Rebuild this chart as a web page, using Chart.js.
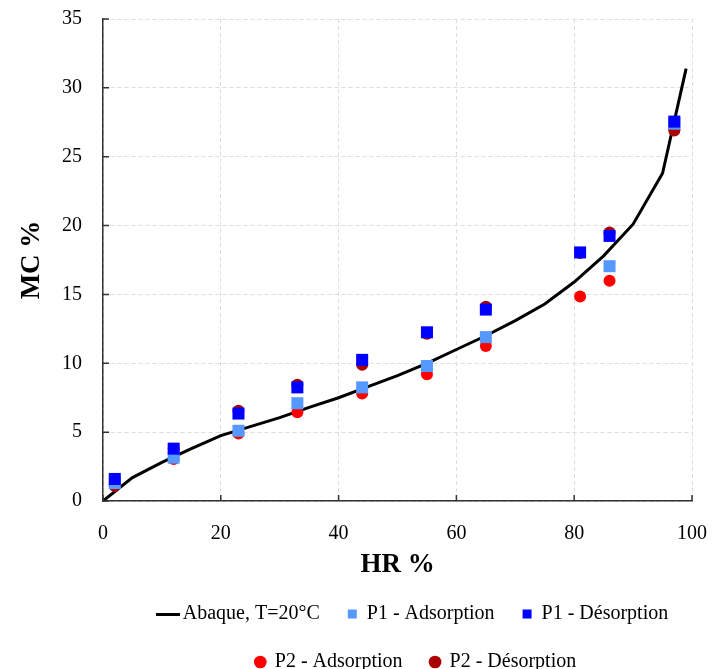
<!DOCTYPE html>
<html>
<head>
<meta charset="utf-8">
<script src="https://cdn.jsdelivr.net/npm/chart.js@4/dist/chart.umd.min.js"></script>
<style>
  body { margin: 0; background: #fff; }
</style>
</head>
<body>
<canvas id="myChart" width="712" height="669"></canvas>
<script>
// courbe abaque T=20°C
var abaqueHR = [0, 5, 10, 15, 20, 25, 30, 35, 40, 45, 50, 55, 60, 65, 70, 75, 80, 85, 90, 95, 99];
var abaqueMC = [0, 1.7, 2.8, 3.8, 4.75, 5.4, 6.05, 6.8, 7.5, 8.3, 9.1, 10.0, 11.0, 12.0, 13.1, 14.3, 15.9, 17.8, 20.1, 23.8, 31.4];

// mesures
var p1AdsHR = [2, 12, 23, 33, 44, 55, 65, 86, 97];
var p1AdsMC = [1.3, 3.15, 5.1, 7.1, 8.25, 9.8, 11.9, 17.05, 27.4];
var p1DesHR = [2, 12, 23, 33, 44, 55, 65, 81, 86, 97];
var p1DesMC = [1.6, 3.8, 6.35, 8.25, 10.25, 12.25, 13.9, 18.05, 19.25, 27.55];
var p2AdsHR = [2, 12, 23, 33, 44, 55, 65, 81, 86, 97];
var p2AdsMC = [1.1, 3.05, 4.9, 6.45, 7.8, 9.2, 11.25, 14.85, 16.0, 27.0];
var p2DesHR = [2, 12, 23, 33, 44, 55, 65, 81, 86, 97];
var p2DesMC = [1.1, 3.8, 6.55, 8.45, 9.9, 12.15, 14.1, 18.0, 19.5, 26.9];

var xTicks = [0, 20, 40, 60, 80, 100];
var yTicks = [0, 5, 10, 15, 20, 25, 30, 35];

function pts(xs, ys) {
  return xs.map(function (x, i) { return { x: x, y: ys[i] }; });
}

// trait noir plus long pour la légende de l'abaque
var lineSample = document.createElement("canvas");
lineSample.width = 24;
lineSample.height = 3;
var lsCtx = lineSample.getContext("2d");
lsCtx.fillStyle = "#000";
lsCtx.fillRect(0, 0, 24, 3);

// petits traits de graduation tournés vers l'intérieur
var innerTicks = {
  id: "innerTicks",
  afterLayout: function (chart) {
    // légende un peu décalée vers la droite comme sur l'original
    chart.legend.left += 62;
    chart.legend.right += 62;
  },
  afterDatasetsDraw: function (chart) {
    var c = chart.ctx, a = chart.chartArea;
    var sx = chart.scales.x, sy = chart.scales.y;
    c.save();
    c.strokeStyle = "#333";
    c.lineWidth = 1.5;
    c.beginPath();
    xTicks.forEach(function (v) {
      var px = sx.getPixelForValue(v);
      c.moveTo(px, a.bottom);
      c.lineTo(px, a.bottom - 6);
    });
    yTicks.forEach(function (v) {
      var py = sy.getPixelForValue(v);
      c.moveTo(a.left, py);
      c.lineTo(a.left + 6, py);
    });
    c.stroke();
    c.restore();
  }
};

var serif = "'Liberation Serif', 'DejaVu Serif', serif";
Chart.defaults.font.family = serif;
Chart.defaults.color = "#000";

var ctx = document.getElementById("myChart").getContext("2d");
var myChart = new Chart(ctx, {
  type: "scatter",
  data: {
    datasets: [
      {
        label: "Abaque, T=20°C",
        data: pts(abaqueHR, abaqueMC),
        showLine: true,
        borderColor: "#000",
        backgroundColor: "#000",
        borderWidth: 3,
        pointRadius: 0,
        pointStyle: "line",
        order: 5
      },
      {
        label: "P1 - Adsorption",
        data: pts(p1AdsHR, p1AdsMC),
        pointStyle: "rect",
        pointRadius: 8.5,
        backgroundColor: "#5599ff",
        borderColor: "#5599ff",
        borderWidth: 0,
        order: 1
      },
      {
        label: "P1 - Désorption",
        data: pts(p1DesHR, p1DesMC),
        pointStyle: "rect",
        pointRadius: 8.5,
        backgroundColor: "#0000ff",
        borderColor: "#0000ff",
        borderWidth: 0,
        order: 0
      },
      {
        label: "P2 - Adsorption",
        data: pts(p2AdsHR, p2AdsMC),
        pointStyle: "circle",
        pointRadius: 6,
        backgroundColor: "#ff0000",
        borderColor: "#ff0000",
        borderWidth: 0,
        order: 3
      },
      {
        label: "P2 - Désorption",
        data: pts(p2DesHR, p2DesMC),
        pointStyle: "circle",
        pointRadius: 6,
        backgroundColor: "#aa0000",
        borderColor: "#aa0000",
        borderWidth: 0,
        order: 2
      }
    ]
  },
  options: {
    responsive: false,
    animation: false,
    layout: { padding: { top: 19, right: 20, left: 16, bottom: -13 } },
    plugins: {
      tooltip: { enabled: false },
      legend: {
        position: "bottom",
        labels: {
          usePointStyle: true,
          boxWidth: 9,
          boxHeight: 9,
          padding: 28,
          font: { size: 20 },
          sort: function (a, b) { return a.datasetIndex - b.datasetIndex; },
          generateLabels: function (chart) {
            var items = Chart.defaults.plugins.legend.labels.generateLabels(chart);
            items.forEach(function (it) {
              if (it.datasetIndex === 0) it.pointStyle = lineSample;
            });
            return items;
          }
        }
      }
    },
    scales: {
      x: {
        min: 0,
        max: 100,
        afterBuildTicks: function (axis) {
          axis.ticks = xTicks.map(function (v) { return { value: v }; });
        },
        afterFit: function (axis) {
          axis.height = 75;
          axis.paddingLeft = 0;
          axis.paddingRight = 0;
        },
        ticks: { font: { size: 20 }, padding: 21 },
        grid: { color: "#dddddd", drawTicks: false },
        border: { color: "#333", width: 1.5, dash: [4, 3] },
        title: {
          display: true,
          text: "HR %",
          font: { size: 27, weight: "bold" },
          padding: { top: 0, bottom: -5 }
        }
      },
      y: {
        min: 0,
        max: 35,
        afterBuildTicks: function (axis) {
          axis.ticks = yTicks.map(function (v) { return { value: v }; });
        },
        afterFit: function (axis) {
          axis.width = 87;
          axis.paddingTop = 0;
          axis.paddingBottom = 0;
        },
        ticks: { font: { size: 20 }, padding: 21 },
        grid: { color: "#dddddd", drawTicks: false },
        border: { color: "#333", width: 1.5, dash: [4, 3] },
        title: {
          display: true,
          text: "MC %",
          font: { size: 27, weight: "bold" },
          padding: 0
        }
      }
    }
  },
  plugins: [innerTicks]
});
</script>
</body>
</html>
